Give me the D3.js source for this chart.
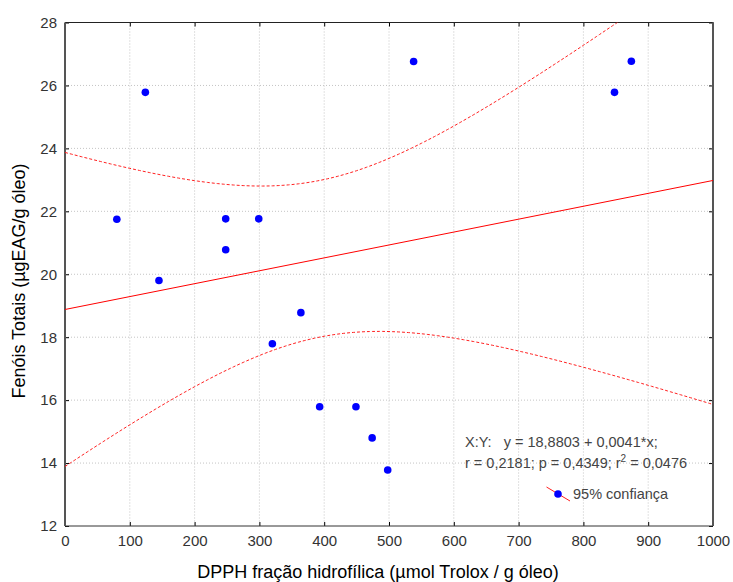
<!DOCTYPE html>
<html>
<head>
<meta charset="utf-8">
<script src="https://cdn.jsdelivr.net/npm/d3@7"></script>
<style>
  body { margin: 0; background: #fff; }
  text { font-family: "Liberation Sans", Arial, sans-serif; }
</style>
</head>
<body>
<div id="chart"></div>
<script>
const width = 733
const height = 582
const margin = { left: 65, right: 20, top: 22.5, bottom: 56 }

// data
const dpph = [80, 124, 145, 248, 248, 299, 320, 364, 393, 449, 474, 498, 538, 848, 874]
const fenois = [21.75, 25.78, 19.8, 21.76, 20.78, 21.76, 17.79, 18.78, 15.79, 15.79, 14.8, 13.78, 26.76, 25.78, 26.77]
const xTicks = [0, 100, 200, 300, 400, 500, 600, 700, 800, 900, 1000]
const yTicks = [12, 14, 16, 18, 20, 22, 24, 26, 28]
const intercept = 18.8803
const slope = 0.0041
const statLine1 = "X:Y:   y = 18,8803 + 0,0041*x;"
const statLine2a = "r = 0,2181; p = 0,4349; r"
const statLine2b = " = 0,0476"
const tCrit = 2.1604 // t(0.975, 13)

const points = dpph.map((d, i) => ({ x: d, y: fenois[i] }))

const iw = width - margin.left - margin.right
const ih = height - margin.top - margin.bottom

const svg = d3.select("#chart").append("svg").attr("width", width).attr("height", height)
const g = svg.append("g").attr("transform", `translate(${margin.left}, ${margin.top})`)

const x = d3.scaleLinear().domain([0, 1000]).range([0, iw])
const y = d3.scaleLinear().domain([12, 28]).range([ih, 0])

svg.append("defs").append("clipPath").attr("id", "plotClip")
    .append("rect").attr("width", iw).attr("height", ih)

// grid
g.append("g").selectAll("line").data(xTicks.slice(1, -1)).join("line")
    .attr("x1", d => x(d)).attr("x2", d => x(d)).attr("y1", 0).attr("y2", ih)
    .attr("stroke", "#c4c4c4").attr("stroke-dasharray", "1,2")
g.append("g").selectAll("line").data(yTicks.slice(1, -1)).join("line")
    .attr("x1", 0).attr("x2", iw).attr("y1", d => y(d)).attr("y2", d => y(d))
    .attr("stroke", "#c4c4c4").attr("stroke-dasharray", "1,2")

// axes, ticks inward on all sides
const tickStyle = sel => {
    sel.select(".domain").remove()
    sel.selectAll(".tick line").attr("stroke", "#000")
    sel.selectAll(".tick text").attr("fill", "#333").attr("font-size", 15)
        .attr("font-family", "Liberation Sans, Arial, sans-serif")
}
g.append("g").attr("transform", `translate(0, ${ih})`)
    .call(d3.axisBottom(x).tickValues(xTicks).tickFormat(d3.format("d")).tickSizeInner(-4).tickPadding(9))
    .call(tickStyle)
g.append("g")
    .call(d3.axisLeft(y).tickValues(yTicks).tickFormat(d3.format("d")).tickSizeInner(-4).tickPadding(8))
    .call(tickStyle)
g.append("g").call(d3.axisTop(x).tickValues(xTicks).tickSizeInner(-4).tickFormat(""))
    .call(tickStyle)
g.append("g").attr("transform", `translate(${iw}, 0)`)
    .call(d3.axisRight(y).tickValues(yTicks).tickSizeInner(-4).tickFormat(""))
    .call(tickStyle)

// frame
g.append("line").attr("x1", 0).attr("x2", iw).attr("y1", 0).attr("y2", 0).attr("stroke", "#222")
g.append("line").attr("x1", 0).attr("x2", iw).attr("y1", ih).attr("y2", ih).attr("stroke", "#333")
g.append("line").attr("x1", 0).attr("x2", 0).attr("y1", 0).attr("y2", ih).attr("stroke", "#555").attr("stroke-width", 2)
g.append("line").attr("x1", iw).attr("x2", iw).attr("y1", 0).attr("y2", ih).attr("stroke", "#555").attr("stroke-width", 2)

// regression and 95% band
const n = points.length
const xMean = d3.mean(points, d => d.x)
const sxx = d3.sum(points, d => (d.x - xMean) ** 2)
const sse = d3.sum(points, d => (d.y - (intercept + slope * d.x)) ** 2)
const s = Math.sqrt(sse / (n - 2))
const grid = d3.range(0, 1001, 5)
const band = grid.map(v => {
    const fit = intercept + slope * v
    const h = tCrit * s * Math.sqrt(1 / n + (v - xMean) ** 2 / sxx)
    return { x: v, lo: fit - h, hi: fit + h }
})

const plot = g.append("g").attr("clip-path", "url(#plotClip)")
plot.append("line")
    .attr("x1", x(0)).attr("y1", y(intercept))
    .attr("x2", x(1000)).attr("y2", y(intercept + slope * 1000))
    .attr("stroke", "#ff0000").attr("stroke-width", 1)
const bandLine = key => d3.line().x(d => x(d.x)).y(d => y(d[key]))
plot.append("path").datum(band).attr("d", bandLine("hi"))
    .attr("fill", "none").attr("stroke", "#ff2020").attr("stroke-dasharray", "3,2")
plot.append("path").datum(band).attr("d", bandLine("lo"))
    .attr("fill", "none").attr("stroke", "#ff2020").attr("stroke-dasharray", "3,2")

plot.selectAll("circle").data(points).join("circle")
    .attr("cx", d => x(d.x)).attr("cy", d => y(d.y)).attr("r", 3.8)
    .attr("fill", "#0000ff")

// stats text
const stats = g.append("g").attr("font-size", 14.5).attr("fill", "#444")
stats.append("text").text(statLine1)
    .attr("x", 400).attr("y", 424).style("white-space", "pre")
const st2 = stats.append("text").attr("x", 400).attr("y", 445.5).style("white-space", "pre")
st2.append("tspan").text(statLine2a)
st2.append("tspan").text("2").attr("font-size", 10).attr("dy", -6)
st2.append("tspan").text(statLine2b).attr("dy", 6)

const leg = g.append("g").attr("transform", "translate(493, 471.5)")
leg.append("line").attr("x1", -11.5).attr("y1", -7).attr("x2", 12).attr("y2", 7)
    .attr("stroke", "#ff2020")
leg.append("circle").attr("r", 3.8).attr("fill", "#0000ff")
leg.append("text").text("95% confiança").attr("x", 15).attr("y", 5)
    .attr("font-size", 14.5).attr("fill", "#444")

// axis titles
svg.append("text").text("DPPH fração hidrofílica (µmol Trolox / g óleo)")
    .attr("x", margin.left + x(500) - 11).attr("y", 578)
    .attr("text-anchor", "middle").attr("font-size", 18).attr("fill", "#000")
svg.append("text").text("Fenóis Totais (µgEAG/g óleo)")
    .attr("transform", "translate(25, 281) rotate(-90)")
    .attr("text-anchor", "middle").attr("font-size", 18).attr("fill", "#000")
</script>
</body>
</html>
